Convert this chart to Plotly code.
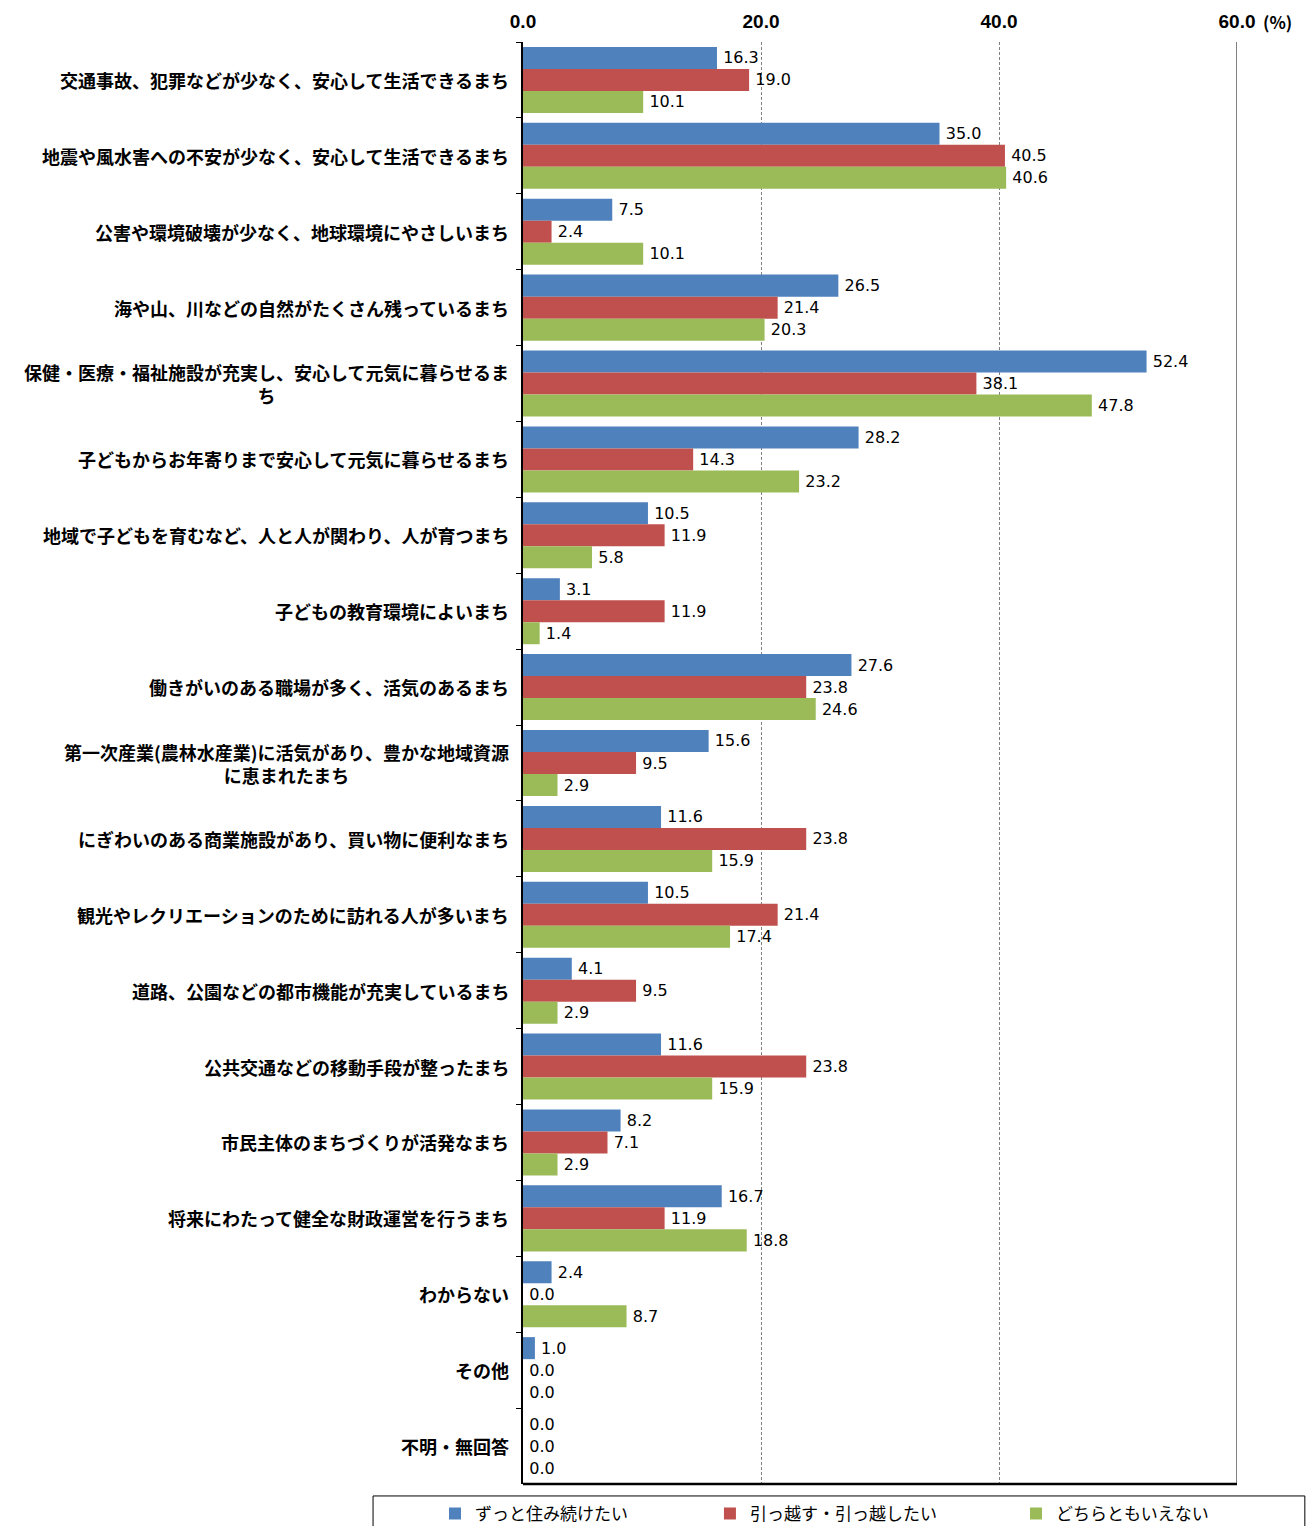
import plotly.graph_objects as go

categories = [
    "交通事故、犯罪などが少なく、安心して生活できるまち",
    "地震や風水害への不安が少なく、安心して生活できるまち",
    "公害や環境破壊が少なく、地球環境にやさしいまち",
    "海や山、川などの自然がたくさん残っているまち",
    "保健・医療・福祉施設が充実し、安心して元気に暮らせるま<br>ち",
    "子どもからお年寄りまで安心して元気に暮らせるまち",
    "地域で子どもを育むなど、人と人が関わり、人が育つまち",
    "子どもの教育環境によいまち",
    "働きがいのある職場が多く、活気のあるまち",
    "第一次産業(農林水産業)に活気があり、豊かな地域資源<br>に恵まれたまち",
    "にぎわいのある商業施設があり、買い物に便利なまち",
    "観光やレクリエーションのために訪れる人が多いまち",
    "道路、公園などの都市機能が充実しているまち",
    "公共交通などの移動手段が整ったまち",
    "市民主体のまちづくりが活発なまち",
    "将来にわたって健全な財政運営を行うまち",
    "わからない",
    "その他",
    "不明・無回答",
]

stay = [16.3, 35.0, 7.5, 26.5, 52.4, 28.2, 10.5, 3.1, 27.6, 15.6,
        11.6, 10.5, 4.1, 11.6, 8.2, 16.7, 2.4, 1.0, 0.0]
move = [19.0, 40.5, 2.4, 21.4, 38.1, 14.3, 11.9, 11.9, 23.8, 9.5,
        23.8, 21.4, 9.5, 23.8, 7.1, 11.9, 0.0, 0.0, 0.0]
neither = [10.1, 40.6, 10.1, 20.3, 47.8, 23.2, 5.8, 1.4, 24.6, 2.9,
           15.9, 17.4, 2.9, 15.9, 2.9, 18.8, 8.7, 0.0, 0.0]

series_names = ["ずっと住み続けたい", "引っ越す・引っ越したい", "どちらともいえない"]
series_colors = ["#4F81BD", "#C0504D", "#9BBB59"]
legend_ids = ["legend", "legend2", "legend3"]
legend_x = [0.3313, 0.5407, 0.7738]

x_ticks = [0, 20, 40, 60]
x_ticktext = ["0.0", "20.0", "40.0", "60.0"]

JP = "Noto Sans CJK JP"
NUM = "DejaVu Sans"

fig = go.Figure()
for name, vals, color, lg in zip(series_names, [stay, move, neither],
                                 series_colors, legend_ids):
    fig.add_trace(go.Bar(
        y=categories, x=vals, orientation="h", name=name, legend=lg,
        marker=dict(color=color, line=dict(width=0)),
        text=vals, texttemplate="\u2009%{x:.1f}", textposition="outside",
        textfont=dict(family=NUM, size=16, color="#000000"),
        cliponaxis=False,
    ))

# category labels, centred when wrapped
for cat in categories:
    fig.add_annotation(
        x=0, xref="paper", y=cat, yref="y",
        text=cat, showarrow=False, xanchor="right", xshift=-12,
        align="center",
        font=dict(family=JP, size=18, color="#000000", weight="bold"),
    )

# unit next to the last tick
fig.add_annotation(
    x=1, xref="paper", y=1, yref="paper", yanchor="middle", xanchor="left",
    xshift=24, yshift=21, text="(%)", showarrow=False,
    font=dict(family=JP, size=17, color="#000000", weight="bold"),
)

# solid right edge and heavy bottom edge of the plot area
fig.add_shape(type="line", xref="x", yref="paper", x0=60, x1=60, y0=0, y1=1,
              line=dict(color="#000000", width=1))
fig.add_shape(type="line", xref="x", yref="paper", x0=0, x1=60, y0=0, y1=0,
              line=dict(color="#000000", width=2.5))

# legend frame
fig.add_shape(type="rect", xref="paper", yref="paper",
              x0=-0.21, x1=1.095, y0=-0.0083, y1=-0.05,
              line=dict(color="#000000", width=1), fillcolor="rgba(0,0,0,0)")

legend_style = dict(
    orientation="h", xref="container", yref="container",
    xanchor="left", y=0.0197, yanchor="top",
    font=dict(family=JP, size=17, color="#000000"),
    itemwidth=30, bgcolor="rgba(0,0,0,0)", borderwidth=0,
)

fig.update_layout(
    width=1313, height=1526,
    margin=dict(l=523, r=76, t=42, b=42, autoexpand=False),
    paper_bgcolor="#FFFFFF", plot_bgcolor="#FFFFFF",
    barmode="group", bargap=0.13, bargroupgap=0,
    showlegend=True,
    legend=dict(x=legend_x[0], **legend_style),
    legend2=dict(x=legend_x[1], **legend_style),
    legend3=dict(x=legend_x[2], **legend_style),
    xaxis=dict(
        side="top", range=[0, 60], tickvals=x_ticks, ticktext=x_ticktext,
        tickfont=dict(family="Liberation Sans Narrow, Liberation Sans", size=19,
                      color="#000000", weight="bold"),
        ticklabelstandoff=9,
        showgrid=True, gridcolor="#808080", griddash="3px,2px", gridwidth=1,
        zeroline=False, showline=False, ticks="", fixedrange=True,
    ),
    yaxis=dict(
        type="category", autorange="reversed", showticklabels=False,
        showline=True, linecolor="#000000", linewidth=1.5,
        ticks="outside", tickson="boundaries", ticklen=5, tickcolor="#000000",
        showgrid=False, zeroline=False, fixedrange=True,
    ),
)

fig.write_html("out.html")
